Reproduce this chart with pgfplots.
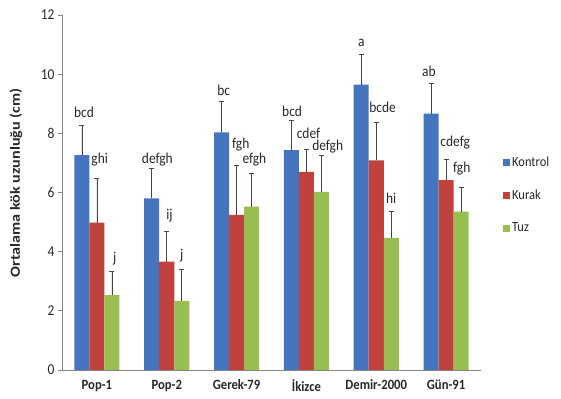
\documentclass[border=0pt]{standalone}
\usepackage{pgfplots}
\usepackage{pgfplotstable}
\pgfplotsset{compat=1.18}
\usepackage{fontspec}
\setmainfont{Carlito}
\definecolor{cK}{RGB}{70,117,192}
\definecolor{cR}{RGB}{192,66,62}
\definecolor{cT}{RGB}{152,190,82}
\definecolor{axgray}{RGB}{134,134,134}
\definecolor{errc}{RGB}{70,70,70}
\definecolor{txt}{RGB}{40,40,40}
\newcommand\vs[1]{\scalebox{1}[1.12]{#1}}

\pgfplotstableread{
x y err lx ly lab
0 7.26 1.02 0.03 8.55 bcd
1 5.80 1.03 1.08 6.99 defgh
2 8.03 1.04 2.03 9.29 bc
3 7.43 1.02 3.01 8.58 bcd
4 9.65 1.01 4.00 10.95 a
5 8.67 1.01 4.97 9.93 ab
}\kontrol
\pgfplotstableread{
x y err lx ly lab
0 4.98 1.51 0.04 6.99 ghi
1 3.66 1.01 1.04 5.10 ij
2 5.24 1.66 2.06 7.50 fgh
3 6.70 0.77 3.03 7.84 cdef
4 7.09 1.28 4.09 8.72 bcde
5 6.42 0.70 5.13 7.57 cdefg
}\kurak
\pgfplotstableread{
x y err lx ly lab
0 2.53 0.81 0.04 3.65 j
1 2.34 1.07 1.00 3.72 j
2 5.52 1.13 2.04 6.99 efgh
3 6.02 1.24 3.09 7.43 defgh
4 4.47 0.90 4.00 5.64 hi
5 5.35 0.81 5.01 6.66 fgh
}\tuz

\begin{document}
\begin{tikzpicture}
\begin{axis}[
  at={(0,0)}, anchor=south west,
  scale only axis, width=419bp, height=355bp,
  ybar=0pt, bar width=15bp,
  xmin=-0.5, xmax=5.5, ymin=0, ymax=12,
  axis x line*=bottom, axis y line*=left,
  axis line style={axgray, line width=0.8bp},
  tick align=outside, major tick length=4bp,
  tick style={axgray, line width=0.8bp},
  ytick={0,2,...,12},
  yticklabel={\vs{\pgfmathprintnumber{\tick}}},
  xtick={0,...,5},
  xticklabels={\vs{Pop-1},\vs{Pop-2},\vs{Gerek-79},\vs{İkizce},\vs{Demir-2000},\vs{Gün-91}},
  major x tick style={draw=none},
  extra x ticks={-0.5,0.5,1.5,2.5,3.5,4.5,5.5},
  extra x tick labels={},
  extra x tick style={tick style={axgray, line width=0.8bp}, major tick length=5bp},
  /pgf/number format/assume math mode=true,
  yticklabel style={font=\fontsize{13.5}{15}\selectfont, text=txt},
  xticklabel style={font=\fontsize{12.7}{14}\bfseries, text=txt, yshift=-2.5bp},
  ylabel={\scalebox{1.22}[1.05]{Ortalama kök uzunluğu (cm)}},
  ylabel style={font=\fontsize{13.3}{15}\bfseries, text=txt, at={(axis description cs:-0.11,0.527)}, anchor=center},
  legend style={draw=none, fill=none, at={(axis description cs:1,0.493)}, anchor=west, xshift=22bp,
    font=\fontsize{12.5}{14}\selectfont, text=txt, row sep=18bp, inner sep=0pt},
  legend cell align=left,
  error bars/y dir=plus, error bars/y explicit,
  error bars/error bar style={errc, line width=0.8bp},
  error bars/error mark options={errc, line width=0.8bp, mark size=2.5bp, rotate=90},
  sq/.style={legend image code/.code={\fill[##1, draw=none] (0bp,-3.5bp) rectangle (7bp,3.5bp);}},
  lbl/.style={forget plot, draw=none, fill=none, point meta=explicit symbolic,
    nodes near coords={\vs{\pgfplotspointmeta}},
    nodes near coords style={font=\fontsize{13.5}{15}\selectfont, text=txt, anchor=base, inner sep=0pt}},
]
\addplot[fill=cK, draw=none, bar shift=-15bp, sq] table[x=x, y=y, y error=err]{\kontrol};
\addlegendentry{\vs{Kontrol}}
\addplot[fill=cR, draw=none, bar shift=0bp, sq] table[x=x, y=y, y error=err]{\kurak};
\addlegendentry{\vs{Kurak}}
\addplot[fill=cT, draw=none, bar shift=15bp, sq] table[x=x, y=y, y error=err]{\tuz};
\addlegendentry{\vs{Tuz}}
\addplot[lbl, bar shift=-15bp] table[x=lx, y=ly, meta=lab]{\kontrol};
\addplot[lbl, bar shift=0bp] table[x=lx, y=ly, meta=lab]{\kurak};
\addplot[lbl, bar shift=15bp] table[x=lx, y=ly, meta=lab]{\tuz};
\end{axis}
\pgfresetboundingbox
\path[use as bounding box] (-62bp,-29bp) rectangle (499bp,370bp);
\end{tikzpicture}
\end{document}
